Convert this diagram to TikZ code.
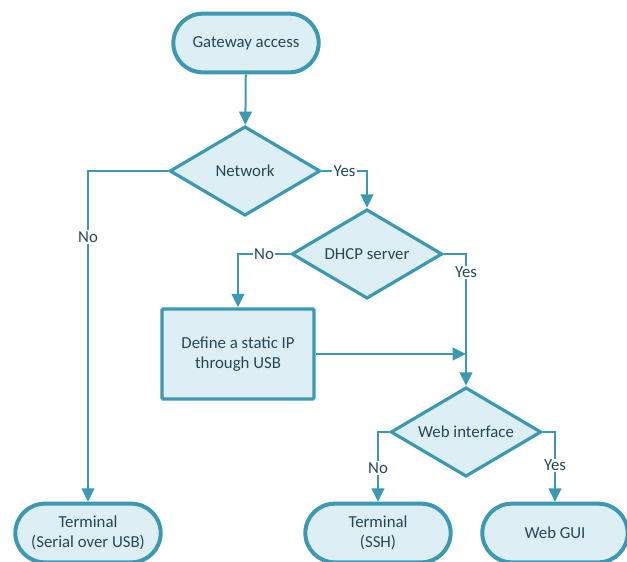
\documentclass[tikz,border=0pt]{standalone}
\usepackage{fontspec}
\setmainfont{Carlito}
\usetikzlibrary{arrows.meta,positioning,shapes.geometric,shapes.misc}
\definecolor{flowline}{RGB}{59,153,180}
\definecolor{flowfill}{RGB}{221,239,245}
\definecolor{flowtext}{RGB}{40,70,90}
\tikzset{
  blk/.style    ={draw=flowline,fill=flowfill,text=flowtext,align=center,
                  font=\fontsize{12.6}{15}\selectfont,inner sep=2pt},
  term/.style   ={blk,rounded rectangle,line width=3pt,
                  minimum width=113pt,minimum height=44pt},
  decide/.style ={blk,diamond,aspect=1.7,line width=2.4pt,inner sep=0pt,
                  minimum width=113pt,minimum height=67pt},
  proc/.style   ={blk,rectangle,rounded corners=1pt,line width=2.6pt,
                  minimum width=114pt,minimum height=67.5pt},
  ed/.style     ={->,draw=flowline,line width=1.5pt},
  ann/.style    ={fill=white,text=flowtext,font=\fontsize{12.6}{14}\selectfont,
                  inner sep=1pt},
}

\begin{document}
\begin{tikzpicture}[
    x=0.75pt, y=-0.75pt,
    >={Triangle[length=10pt,width=9.5pt]} % arrow head style
]
\useasboundingbox (0,0) rectangle (627,561);

% Nodes
\node[term]   (gate)   at (246,43)  {Gateway access};
\node[decide] (net)    at (245,171) {Network};
\node[decide] (dhcp)   at (367,254) {DHCP server};
\node[proc]   (static) at (238,354) {Define a static IP\\through USB};
\node[decide] (web)    at (466,432) {Web interface};
\node[term]   (ser)    at (88,533)  {Terminal\\(Serial over USB)};
\node[term]   (ssh)    at (378,533) {Terminal\\(SSH)};
\node[term]   (gui)    at (555,533) {Web GUI};
\coordinate (join) at (web.north |- static.east);

% Edges
\draw[ed] (gate) -- (net);
\draw[ed] (net.east) -| node[ann,pos=0.25] {Yes} (dhcp.north);
\draw[ed] (net.west) -| node[ann,pos=0.6] {No} (ser.north);
\draw[ed] (dhcp.west) -| node[ann,pos=0.25] {No} (static.north);
\draw[ed] (dhcp.east) -| node[ann,pos=0.57] {Yes} (web.north);
\draw[ed] (static.east) -- (join);
\draw[ed] (web.west) -| node[ann,pos=0.76] {No} (ssh.north);
\draw[ed] (web.east) -| node[ann,pos=0.74] {Yes} (gui.north);

\end{tikzpicture}
\end{document}
